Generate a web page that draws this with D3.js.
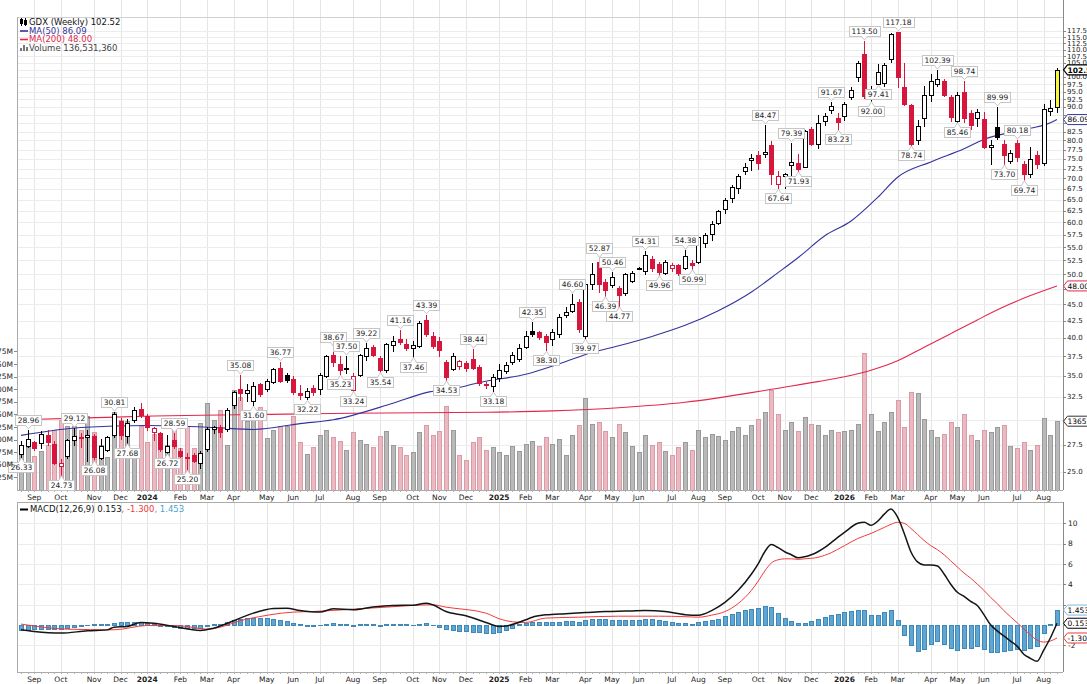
<!DOCTYPE html>
<html>
<head>
<meta charset="utf-8">
<script src="https://cdn.jsdelivr.net/npm/d3@7"></script>
<style>
  html, body { margin: 0; padding: 0; background: #fff; }
  svg { display: block; font-family: "DejaVu Sans", Verdana, sans-serif; }
</style>
</head>
<body>
<svg id="chart" width="1087" height="684"></svg>
<script>
/* GDX weekly candles + MA(50)/MA(200) + volume + MACD(12,26,9) */

// Monday of the first weekly bar
const firstWeek = new Date(2023, 7, 21);

const open = [
  26.6, 27.4, 27.75, 27.65, 28.4, 27.6, 25.5, 26.4, 27.95, 28.2,
  28.25, 28.3, 26.2, 27.0, 28.4, 29.9, 28.3, 30.0, 31.2, 30.4,
  28.7, 28.6, 26.8, 27.9, 26.9, 26.35, 26.55, 25.75, 27.1, 29.05,
  29.25, 29.0, 31.6, 33.4, 33.0, 32.0, 34.0, 33.4, 34.3, 36.0,
  35.1, 34.6, 33.0, 32.45, 33.5, 33.4, 35.0, 37.6, 36.5, 35.95,
  33.3, 35.1, 37.5, 38.8, 37.3, 35.7, 39.0, 39.8, 39.1, 38.55,
  38.9, 42.6, 40.2, 39.6, 36.7, 35.9, 36.2, 36.6, 37.2, 36.1,
  34.0, 33.8, 34.8, 35.6, 36.7, 37.2, 38.8, 41.0, 40.8, 40.3,
  39.9, 40.6, 43.4, 44.0, 45.4, 40.2, 48.3, 52.3, 48.6, 48.1,
  47.6, 46.9, 48.9, 51.2, 50.5, 52.8, 51.9, 50.2, 51.2, 51.6,
  51.2, 52.1, 52.2, 55.9, 57.6, 59.9, 62.8, 65.4, 67.7, 71.9,
  74.6, 76.1, 76.2, 78.6, 68.6, 70.5, 73.5, 74.0, 73.0, 83.4,
  79.1, 85.7, 88.9, 86.7, 87.1, 93.3, 99.8, 108.5, 93.0, 97.6,
  97.8, 106.5, 117.0, 96.6, 90.6, 80.0, 86.5, 94.0, 97.6, 98.7,
  93.3, 85.6, 94.7, 88.0, 86.5, 86.2, 78.3, 84.0, 78.9, 74.4,
  79.2, 73.7, 71.0, 76.1, 73.9, 88.6, 89.9
];
const high = [
  27.8, 28.96, 27.8, 28.8, 28.9, 27.8, 26.1, 28.0, 29.12, 28.6,
  28.9, 28.5, 28.0, 28.3, 30.81, 30.2, 30.1, 31.4, 31.8, 30.6,
  29.3, 28.7, 28.4, 28.59, 27.2, 26.7, 26.7, 26.9, 29.2, 29.4,
  29.5, 31.3, 33.2, 35.08, 34.0, 34.3, 34.1, 34.6, 36.0, 36.77,
  35.3, 35.0, 33.9, 33.5, 33.9, 35.3, 37.7, 38.67, 37.5, 37.5,
  35.3, 37.8, 39.22, 39.0, 37.5, 39.3, 40.3, 41.16, 39.8, 39.6,
  42.4, 43.39, 40.8, 40.1, 37.0, 37.9, 37.0, 36.9, 38.44, 36.3,
  34.2, 35.2, 36.5, 36.8, 38.0, 39.2, 41.0, 42.35, 41.0, 40.6,
  41.3, 43.5, 44.5, 46.6, 45.8, 49.0, 52.0, 52.87, 49.2, 50.46,
  48.0, 50.3, 50.5, 51.3, 54.31, 53.4, 52.3, 52.5, 52.0, 51.9,
  54.38, 52.6, 57.2, 57.9, 60.2, 62.7, 65.4, 68.3, 71.0, 73.8,
  76.3, 77.0, 84.47, 79.8, 71.8, 71.3, 79.39, 76.4, 83.0, 84.0,
  87.5, 88.0, 91.67, 88.0, 91.5, 96.5, 105.8, 113.5, 97.0, 104.5,
  105.0, 116.8, 117.18, 105.0, 91.0, 86.0, 97.0, 101.0, 102.39, 99.2,
  94.0, 95.0, 98.74, 89.0, 89.5, 88.5, 80.0, 89.99, 80.0, 77.4,
  80.18, 74.5, 78.3, 77.0, 91.0, 92.3, 103.2
];
const low = [
  26.33, 27.3, 27.0, 27.2, 27.5, 25.7, 24.73, 26.2, 27.5, 27.3,
  26.0, 26.08, 26.1, 26.9, 28.2, 28.0, 27.68, 29.8, 30.3, 28.9,
  27.9, 26.9, 26.72, 27.2, 26.2, 25.2, 25.9, 25.3, 26.9, 28.6,
  28.2, 28.8, 31.3, 32.2, 32.1, 31.6, 32.6, 33.2, 34.1, 34.2,
  34.3, 32.9, 32.3, 32.22, 32.7, 32.9, 34.9, 36.2, 35.23, 35.3,
  33.24, 35.0, 37.0, 37.5, 35.54, 35.5, 38.2, 39.1, 38.3, 37.46,
  38.7, 40.3, 38.6, 37.5, 34.53, 35.7, 35.9, 35.6, 35.8, 33.9,
  33.6, 33.18, 34.4, 35.3, 36.5, 36.9, 38.6, 40.3, 39.9, 38.3,
  39.0, 40.1, 43.0, 43.8, 40.9, 39.97, 47.5, 47.0, 46.39, 47.8,
  44.77, 46.5, 48.7, 50.9, 50.0, 50.6, 49.96, 50.0, 50.6, 49.9,
  51.0, 50.99, 52.0, 55.0, 56.5, 59.7, 62.1, 64.5, 66.5, 71.0,
  72.0, 72.5, 75.5, 68.7, 67.64, 67.8, 70.0, 71.93, 72.8, 78.7,
  78.0, 84.5, 88.0, 83.23, 86.0, 92.5, 98.5, 92.8, 92.0, 97.41,
  96.8, 105.5, 96.6, 90.5, 78.74, 78.9, 84.3, 92.0, 97.0, 93.5,
  85.7, 85.46, 85.5, 83.3, 84.3, 78.0, 73.6, 80.5, 73.7, 74.0,
  74.5, 69.74, 70.3, 72.7, 73.5, 87.6, 88.5
];
const close = [
  27.5, 28.0, 27.2, 28.5, 27.7, 25.8, 25.75, 27.9, 28.35, 28.1,
  28.45, 26.3, 27.4, 28.2, 30.6, 28.4, 29.7, 31.1, 30.5, 29.2,
  29.1, 27.1, 27.4, 27.35, 26.4, 26.3, 26.0, 26.7, 29.0, 29.2,
  28.7, 31.1, 33.1, 32.95, 33.3, 33.8, 32.9, 34.4, 35.8, 34.4,
  34.5, 33.1, 32.7, 33.2, 33.1, 35.1, 37.5, 36.7, 35.7, 35.85,
  35.0, 37.6, 38.6, 37.7, 35.7, 39.1, 39.5, 39.4, 38.6, 39.0,
  42.2, 40.5, 38.9, 38.3, 34.9, 37.5, 36.9, 36.0, 35.95, 34.1,
  33.85, 34.9, 35.7, 36.3, 37.6, 38.6, 40.2, 40.5, 40.1, 39.4,
  40.8, 43.1, 43.8, 45.0, 41.2, 48.4, 50.1, 48.3, 47.3, 49.5,
  46.5, 50.0, 50.2, 51.05, 53.6, 51.2, 50.4, 52.2, 51.6, 50.3,
  53.3, 51.6, 57.0, 57.4, 59.7, 62.5, 64.9, 68.0, 70.7, 72.8,
  75.3, 74.0, 76.9, 71.0, 70.7, 71.1, 74.3, 72.4, 82.7, 79.0,
  85.1, 87.2, 90.4, 85.4, 90.9, 95.5, 105.0, 93.6, 95.8, 101.9,
  104.2, 116.3, 99.8, 91.0, 79.0, 84.3, 94.0, 98.6, 99.4, 94.0,
  86.8, 93.8, 86.5, 84.6, 88.5, 78.3, 78.8, 81.0, 75.9, 76.6,
  75.4, 71.1, 75.0, 73.7, 89.2, 89.8, 102.52
];

// weekly volume, millions of shares
const volume = [
  89, 85, 67, 78, 89, 119, 139, 126, 126, 119,
  147, 116, 89, 66, 155, 139, 136, 65, 126, 96,
  112, 112, 89, 126, 83, 126, 83, 132, 173, 139,
  159, 89, 198, 185, 136, 152, 165, 103, 119, 126,
  126, 147, 95, 72, 85, 110, 120, 105, 98, 80,
  115, 100, 92, 85, 108, 118, 90, 85, 70, 75,
  115, 128, 110, 118, 167, 120, 70, 60, 95, 105,
  80, 85, 75, 70, 88, 78, 92, 98, 88, 105,
  92, 102, 70, 110, 128, 182, 130, 135, 118, 105,
  130, 115, 88, 75, 110, 90, 95, 78, 70, 85,
  96, 80, 120, 105, 112, 108, 100, 118, 125, 110,
  128, 140, 155, 198, 150, 120, 135, 118, 145, 130,
  128, 110, 120, 115, 118, 120, 130, 272, 150, 118,
  135, 155, 179, 125, 194, 192, 140, 120, 105, 112,
  135, 125, 150, 110, 100, 120, 115, 125, 129, 87,
  83, 95, 79, 89, 142, 109, 136.53136
];

// moving averages: [bar index, value]
const ma50 = [
  [0, 28.4], [9, 29.2], [19, 29.4], [29, 29.2], [35, 29.0], [42, 29.6], [47, 30.0],
  [56, 31.8], [61, 33.0], [66, 33.6], [69, 34.2], [76, 35.2], [81, 36.5], [86, 38.0],
  [90, 38.9], [95, 40.2], [100, 41.8], [105, 44.0], [110, 47.0], [114, 50.3],
  [117, 53.0], [121, 57.2], [125, 60.3], [129, 65.5], [132, 70.3], [137, 74.2],
  [142, 77.7], [145, 80.3], [150, 82.7], [155, 85.1], [156, 86.09]
];
const ma200 = [
  [0, 30.0], [10, 30.2], [20, 30.4], [30, 30.5], [40, 30.6], [50, 30.7], [60, 30.75],
  [70, 30.8], [80, 30.95], [90, 31.3], [100, 31.9], [110, 33.0], [113, 33.4],
  [120, 34.3], [124, 34.9], [128, 35.7], [132, 36.9], [136, 38.7], [140, 40.6],
  [144, 42.6], [148, 44.6], [152, 46.4], [156, 48.0]
];

// MACD(12,26,9)
const macdLine = [
  [0, -0.49], [2, -0.66], [6, -0.82], [10, -0.59], [13, -0.5], [14, -0.23], [16, -0.16],
  [18, 0.23], [20, 0.16], [23, -0.16], [27, -0.56], [29, -0.33], [33, 0.66], [35, 1.15],
  [38, 1.61], [40, 1.64], [42, 1.41], [45, 1.25], [47, 1.57], [50, 1.48], [53, 1.75],
  [56, 1.9], [59, 1.93], [61, 2.13], [62, 1.97], [64, 1.31], [67, 0.89], [70, 0.23],
  [72, -0.16], [73, -0.12], [76, 0.49], [77, 0.75], [79, 0.98], [82, 1.1], [85, 1.2],
  [88, 1.3], [91, 1.35], [94, 1.4], [97, 1.3], [100, 1.0], [102, 0.95], [104, 1.4],
  [106, 2.2], [108, 3.4], [110, 5.0], [111, 6.0], [112, 7.2], [113, 7.9], [114, 7.6],
  [115, 7.2], [116, 6.9], [117, 6.6], [118, 6.7], [119, 6.9], [120, 7.2], [121, 7.6],
  [122, 8.1], [124, 9.1], [126, 10.0], [127, 10.1], [128, 9.8], [129, 10.2], [130, 10.9],
  [131, 11.4], [132, 10.6], [133, 9.0], [134, 7.2], [135, 6.2], [136, 5.9], [137, 5.9],
  [138, 5.8], [139, 5.0], [140, 4.0], [141, 3.2], [142, 2.8], [143, 2.3], [144, 1.9],
  [145, 1.0], [146, 0.0], [147, -0.6], [148, -1.1], [149, -1.6], [150, -2.1], [151, -2.9],
  [152, -3.3], [153, -3.6], [154, -2.5], [155, -1.3], [156, 0.153]
];
const signalLine = [
  [0, 0.07], [7, -0.43], [14, -0.49], [19, -0.07], [24, -0.1], [28, -0.43], [34, 0.56],
  [41, 1.25], [44, 1.31], [50, 1.54], [55, 1.74], [62, 1.97], [64, 1.74], [70, 1.15],
  [72, 0.6], [74, 0.3], [76, 0.23], [79, 0.66], [84, 0.75], [90, 0.85], [96, 0.85],
  [100, 0.8], [102, 0.75], [104, 0.95], [106, 1.3], [108, 2.1], [110, 3.4], [111, 4.3],
  [112, 5.3], [113, 6.1], [114, 6.4], [115, 6.5], [116, 6.5], [117, 6.45], [118, 6.5],
  [119, 6.55], [120, 6.65], [122, 7.1], [124, 7.8], [126, 8.5], [128, 9.0], [130, 9.6],
  [131, 9.9], [132, 10.1], [133, 10.0], [134, 9.5], [135, 8.9], [136, 8.3], [137, 7.8],
  [138, 7.4], [139, 6.9], [140, 6.3], [141, 5.7], [142, 5.1], [143, 4.6], [144, 4.0],
  [145, 3.4], [146, 2.7], [147, 2.1], [148, 1.4], [149, 0.8], [150, 0.2], [151, -0.4],
  [152, -1.0], [153, -1.5], [154, -1.7], [155, -1.6], [156, -1.3]
];
const macdHist = [
  -0.45, -0.45, -0.43, -0.42, -0.42, -0.4, -0.38, -0.3, -0.2, -0.1,
  -0.02, 0.05, 0.08, 0.12, 0.2, 0.25, 0.3, 0.28, 0.25, 0.15,
  0.05, -0.05, -0.12, -0.2, -0.25, -0.28, -0.3, -0.25, -0.12, 0.05,
  0.1, 0.3, 0.45, 0.55, 0.65, 0.7, 0.68, 0.7, 0.6, 0.5,
  0.4, 0.22, 0.05, -0.05, -0.1, 0.0, 0.1, 0.15, 0.1, 0.05,
  -0.05, 0.05, 0.12, 0.05, -0.05, 0.08, 0.1, 0.08, 0.05, 0.02,
  0.12, 0.15, 0.02, -0.15, -0.4, -0.45, -0.55, -0.6, -0.65, -0.72,
  -0.8, -0.78, -0.65, -0.5, -0.3, 0.05, 0.2, 0.3, 0.32, 0.3,
  0.3, 0.32, 0.35, 0.4, 0.25, 0.45, 0.6, 0.6, 0.55, 0.5,
  0.45, 0.45, 0.45, 0.5, 0.6, 0.55, 0.45, 0.4, 0.3, 0.2,
  0.2, 0.1, 0.25, 0.35, 0.45, 0.6, 0.9, 1.1, 1.3, 1.45,
  1.6, 1.7, 1.9, 1.8, 1.2, 0.7, 0.4, 0.15, 0.2, 0.35,
  0.55, 0.8, 1.0, 1.1, 1.3, 1.4, 1.5, 1.5, 1.0, 1.0,
  1.3, 1.5, 0.5, -1.0, -2.0, -2.6, -2.4, -1.9, -1.6, -1.9,
  -2.3, -2.5, -2.3, -2.3, -2.1, -2.4, -2.7, -2.7, -2.6, -2.5,
  -2.4, -2.5, -2.3, -2.1, -0.8, 0.1, 1.453
];

// bars that carry a high / low tag
const hiTags = [1, 8, 14, 23, 33, 39, 47, 49, 52, 57, 61, 68, 77, 83, 87, 89, 94, 100,
  112, 116, 122, 127, 132, 138, 142, 147, 150];
const loTags = [0, 6, 11, 16, 22, 25, 35, 43, 48, 50, 54, 59, 64, 71, 79, 85, 88, 90, 96,
  101, 114, 117, 123, 128, 129, 134, 141, 148, 151];

const priceTicks = d3.range(25, 117.6, 2.5);
const volTicks = [25, 50, 75, 100, 125, 150, 175, 200, 225, 250, 275];
const macdTicks = [-2, 0, 2, 4, 6, 8, 10];

// ---------------------------------------------------------------
const N = close.length;
const weeks = d3.range(N).map(i => d3.timeDay.offset(firstWeek, 7 * i));
const monthStarts = d3.range(1, N).filter(i => weeks[i].getMonth() !== weeks[i - 1].getMonth());

const L = 17, R = 1063;
const P_TOP = 17, P_BOT = 490, M_TOP = 502, M_BOT = 672;
const RED = '#d7163d', BLUE = '#34349e', MA200C = '#e2284c', HISTC = '#5ea7d3', SIGC = '#f23a3a';

const svg = d3.select('#chart');

const x = d3.scaleBand().domain(d3.range(N)).range([17.68, 1060.3]);
const xc = i => x(i) + x.bandwidth() / 2;
const px = i => Math.round(xc(i)) + 0.5;
const yP = d3.scaleLog().domain([25, 117.5]).range([471.7, 31]);
const yV = d3.scaleLinear().domain([0, 275]).range([P_BOT, 351.4]);
const yM = d3.scaleLinear().domain([-2, 10]).range([645.1, 523.3]);
const crisp = v => Math.round(v) + 0.5;

const lastM = macdLine[macdLine.length - 1][1];
const lastS = signalLine[signalLine.length - 1][1];
const lastH = macdHist[N - 1];
const lastMa50 = ma50[ma50.length - 1][1];
const lastMa200 = ma200[ma200.length - 1][1];

// where the right-axis flags sit, so plain tick labels under them can be skipped
const priceFlags = [yP(close[N - 1]), yP(lastMa50), yP(lastMa200), yV(volume[N - 1])];
const macdFlags = [yM(lastH), yM(lastM), yM(lastS)];
const free = (y, flags) => flags.every(f => Math.abs(f - y) > 6.5);

const defs = svg.append('defs');
defs.append('clipPath').attr('id', 'clipP').append('rect')
  .attr('x', L).attr('y', P_TOP).attr('width', R - L).attr('height', P_BOT - P_TOP);
defs.append('clipPath').attr('id', 'clipM').append('rect')
  .attr('x', L).attr('y', M_TOP).attr('width', R - L).attr('height', M_BOT - M_TOP);

// grid
const grid = svg.append('g').attr('stroke', '#e5e5e5').attr('shape-rendering', 'crispEdges');
monthStarts.forEach(i => {
  grid.append('line').attr('x1', px(i)).attr('x2', px(i)).attr('y1', 0).attr('y2', P_BOT);
  grid.append('line').attr('x1', px(i)).attr('x2', px(i)).attr('y1', M_TOP).attr('y2', M_BOT);
});
priceTicks.forEach(v => {
  grid.append('line').attr('x1', L).attr('x2', R).attr('y1', crisp(yP(v))).attr('y2', crisp(yP(v)))
    .attr('stroke', '#ececec');
});
macdTicks.filter(v => v !== 0).forEach(v => {
  grid.append('line').attr('x1', L).attr('x2', R).attr('y1', crisp(yM(v))).attr('y2', crisp(yM(v)))
    .attr('stroke', '#ececec');
});

// pane frames
const frame = svg.append('g').attr('fill', 'none').attr('shape-rendering', 'crispEdges');
frame.append('line').attr('x1', L).attr('x2', R).attr('y1', P_TOP + 0.5).attr('y2', P_TOP + 0.5).attr('stroke', '#d0d0d0');
frame.append('line').attr('x1', L + 0.5).attr('x2', L + 0.5).attr('y1', P_TOP).attr('y2', P_BOT).attr('stroke', '#aaa');
frame.append('line').attr('x1', L).attr('x2', R).attr('y1', P_BOT + 0.5).attr('y2', P_BOT + 0.5).attr('stroke', '#aaa');
frame.append('line').attr('x1', R + 0.5).attr('x2', R + 0.5).attr('y1', 0).attr('y2', P_BOT).attr('stroke', '#888');
frame.append('line').attr('x1', L).attr('x2', R).attr('y1', M_TOP + 0.5).attr('y2', M_TOP + 0.5).attr('stroke', '#aaa');
frame.append('line').attr('x1', L + 0.5).attr('x2', L + 0.5).attr('y1', M_TOP).attr('y2', M_BOT).attr('stroke', '#aaa');
frame.append('line').attr('x1', L).attr('x2', R).attr('y1', M_BOT + 0.5).attr('y2', M_BOT + 0.5).attr('stroke', '#aaa');
frame.append('line').attr('x1', R + 0.5).attr('x2', R + 0.5).attr('y1', M_TOP).attr('y2', M_BOT).attr('stroke', '#888');

// weekly ticks on the date axes
const wt = svg.append('g').attr('stroke', '#b0b0b0').attr('shape-rendering', 'crispEdges');
d3.range(N).forEach(i => {
  wt.append('line').attr('x1', px(i)).attr('x2', px(i)).attr('y1', P_BOT).attr('y2', P_BOT + 2);
  wt.append('line').attr('x1', px(i)).attr('x2', px(i)).attr('y1', M_BOT).attr('y2', M_BOT + 2);
});

const isUp = i => i === 0 || close[i] >= close[i - 1];

// volume
svg.append('g').attr('clip-path', 'url(#clipP)').attr('shape-rendering', 'crispEdges')
  .selectAll('rect').data(volume).join('rect')
  .attr('x', (d, i) => Math.round(xc(i)) - 2 + 0.5)
  .attr('width', 4)
  .attr('y', d => crisp(yV(d)))
  .attr('height', d => P_BOT - crisp(yV(d)))
  .attr('fill', (d, i) => isUp(i) ? '#b9b9b9' : '#ebb9c1')
  .attr('stroke', (d, i) => isUp(i) ? '#9a9a9a' : '#d99ba6');

// moving averages
const maLine = d3.line().x(d => xc(d[0])).y(d => yP(d[1])).curve(d3.curveMonotoneX);
const maG = svg.append('g').attr('clip-path', 'url(#clipP)').attr('fill', 'none');
maG.append('path').attr('d', maLine(ma200)).attr('stroke', MA200C).attr('stroke-width', 1.1);
maG.append('path').attr('d', maLine(ma50)).attr('stroke', BLUE).attr('stroke-width', 1.1);

// candles
const cg = svg.append('g').attr('clip-path', 'url(#clipP)').attr('shape-rendering', 'crispEdges');
d3.range(N).forEach(i => {
  const col = i === N - 1 ? '#000' : (isUp(i) ? '#000' : RED);
  const hollow = close[i] >= open[i];
  cg.append('line').attr('x1', px(i)).attr('x2', px(i))
    .attr('y1', Math.round(yP(high[i]))).attr('y2', Math.round(yP(low[i])) + 1)
    .attr('stroke', col);
  const top = Math.round(yP(Math.max(open[i], close[i])));
  const bot = Math.round(yP(Math.min(open[i], close[i])));
  cg.append('rect')
    .attr('x', Math.round(xc(i)) - 2 + 0.5).attr('width', 4)
    .attr('y', top + 0.5).attr('height', Math.max(1, bot - top))
    .attr('fill', i === N - 1 ? '#f7f73c' : (hollow ? '#fff' : col))
    .attr('stroke', col);
});

// high / low tags
const tagG = svg.append('g').attr('font-size', 7.5).attr('fill', '#222');
function tag(i, val, above) {
  const cx = px(i);
  const yv = yP(val);
  const g = tagG.append('g');
  const box = g.append('rect').attr('fill', '#fff').attr('stroke', '#c6c6c6');
  const ptr = g.append('path').attr('fill', '#fff').attr('stroke', '#c6c6c6');
  const t = g.append('text').attr('text-anchor', 'middle').attr('x', cx).text(val.toFixed(2));
  const w = t.node().getComputedTextLength() + 5;
  const h = 10;
  const edge = above ? Math.round(yv - 5) + 0.5 : Math.round(yv + 5) + 0.5;
  const by = above ? edge - h : edge;
  box.attr('x', Math.round(cx - w / 2) + 0.5).attr('y', by).attr('width', Math.round(w)).attr('height', h);
  const tip = above ? yv - 1 : yv + 1;
  ptr.attr('d', `M${cx - 3},${edge} L${cx},${tip} L${cx + 3},${edge}`);
  g.append('line').attr('x1', cx - 2.5).attr('x2', cx + 2.5).attr('y1', edge).attr('y2', edge)
    .attr('stroke', '#fff');
  t.attr('y', by + h / 2).attr('dy', '0.36em');
}
hiTags.forEach(i => tag(i, high[i], true));
loTags.forEach(i => tag(i, low[i], false));

// right price axis
const ra = svg.append('g').attr('font-size', 7).attr('fill', '#222');
priceTicks.forEach(v => {
  ra.append('line').attr('x1', R).attr('x2', R + 3).attr('y1', crisp(yP(v))).attr('y2', crisp(yP(v)))
    .attr('stroke', '#888');
  if (free(yP(v), priceFlags)) {
    ra.append('text').attr('x', R + 4).attr('y', yP(v)).attr('dy', '0.35em').text(v.toFixed(1));
  }
});

// left volume axis
const la = svg.append('g').attr('font-size', 7.5).attr('fill', '#222');
volTicks.forEach(v => {
  la.append('line').attr('x1', L - 3).attr('x2', L).attr('y1', crisp(yV(v))).attr('y2', crisp(yV(v)))
    .attr('stroke', '#888');
  la.append('text').attr('x', L - 4).attr('y', yV(v)).attr('dy', '0.35em')
    .attr('text-anchor', 'end').text(v + 'M');
});

// value flags on the right axis
function flag(y, text, stroke, opts = {}) {
  const g = svg.append('g');
  const h = 10;
  g.append('path')
    .attr('d', `M${R + 0.5},${y} L${R + 4.5},${y - h / 2} L${1092},${y - h / 2} L${1092},${y + h / 2} L${R + 4.5},${y + h / 2} Z`)
    .attr('fill', '#fff').attr('stroke', stroke).attr('stroke-width', opts.sw || 1);
  g.append('text').attr('x', R + 4.5).attr('y', y).attr('dy', '0.36em')
    .attr('font-size', 7.5).attr('font-weight', opts.bold ? 'bold' : 'normal')
    .attr('fill', opts.color || '#000').text(text);
}
flag(yV(volume[N - 1]), d3.format('d')(Math.round(volume[N - 1] * 1e6)), '#333');
flag(yP(lastMa200), lastMa200.toFixed(2), MA200C);
flag(yP(lastMa50), lastMa50.toFixed(2), BLUE);
flag(yP(close[N - 1]), close[N - 1].toFixed(2), '#000', { bold: true, sw: 1.2 });

// date labels
const fmtMonth = d3.timeFormat('%b');
[497, 679].forEach(yy => {
  const g = svg.append('g').attr('font-size', 7.5).attr('fill', '#222').attr('text-anchor', 'middle');
  monthStarts.forEach(i => {
    const jan = weeks[i].getMonth() === 0;
    g.append('text').attr('x', xc(i)).attr('y', yy).attr('dy', '0.35em')
      .attr('font-weight', jan ? 'bold' : 'normal')
      .text(jan ? weeks[i].getFullYear() : fmtMonth(weeks[i]));
  });
});

// legend (price pane)
const lg = svg.append('g').attr('font-size', 8.5);
const ic = lg.append('g').attr('shape-rendering', 'crispEdges');
ic.append('line').attr('x1', 21.5).attr('x2', 21.5).attr('y1', 18).attr('y2', 26).attr('stroke', '#000');
ic.append('rect').attr('x', 20.5).attr('y', 19.5).attr('width', 2).attr('height', 4).attr('fill', '#000').attr('stroke', '#000');
ic.append('line').attr('x1', 25.5).attr('x2', 25.5).attr('y1', 18).attr('y2', 26).attr('stroke', '#000');
ic.append('rect').attr('x', 24.5).attr('y', 20.5).attr('width', 2).attr('height', 4).attr('fill', '#000').attr('stroke', '#000');
lg.append('text').attr('x', 29).attr('y', 22.5).attr('dy', '0.35em').attr('fill', '#111')
  .text(`GDX (Weekly) ${close[N - 1].toFixed(2)}`);
lg.append('line').attr('x1', 20).attr('x2', 28).attr('y1', 31).attr('y2', 31).attr('stroke', BLUE).attr('stroke-width', 1.6);
lg.append('text').attr('x', 29).attr('y', 31).attr('dy', '0.35em').attr('fill', BLUE)
  .text(`MA(50) ${lastMa50.toFixed(2)}`);
lg.append('line').attr('x1', 20).attr('x2', 28).attr('y1', 39.5).attr('y2', 39.5).attr('stroke', MA200C).attr('stroke-width', 1.6);
lg.append('text').attr('x', 29).attr('y', 39.5).attr('dy', '0.35em').attr('fill', MA200C)
  .text(`MA(200) ${lastMa200.toFixed(2)}`);
[[20, 3], [23, 6], [26, 4]].forEach(([bx, bh]) => {
  lg.append('rect').attr('x', bx).attr('y', 51 - bh).attr('width', 2).attr('height', bh).attr('fill', '#777');
});
lg.append('text').attr('x', 29).attr('y', 48).attr('dy', '0.35em').attr('fill', '#444')
  .text(`Volume ${d3.format(',')(Math.round(volume[N - 1] * 1e6))}`);

// MACD pane
const y0 = yM(0);
svg.append('g').attr('clip-path', 'url(#clipM)').attr('shape-rendering', 'crispEdges')
  .selectAll('rect').data(macdHist).join('rect')
  .attr('x', (d, i) => Math.round(xc(i)) - 2 + 0.5)
  .attr('width', 4)
  .attr('y', d => Math.round(Math.min(yM(d), y0)) + 0.5)
  .attr('height', d => Math.max(0.01, Math.round(Math.abs(yM(d) - y0))))
  .attr('fill', HISTC).attr('stroke', '#3f88b8');

const mLine = d3.line().x(d => xc(d[0])).y(d => yM(d[1])).curve(d3.curveMonotoneX);
const mg = svg.append('g').attr('clip-path', 'url(#clipM)').attr('fill', 'none');
mg.append('path').attr('d', mLine(signalLine)).attr('stroke', SIGC).attr('stroke-width', 1);
mg.append('path').attr('d', mLine(macdLine)).attr('stroke', '#151515').attr('stroke-width', 1.5);

const mAxis = svg.append('g').attr('font-size', 7.5).attr('fill', '#222');
macdTicks.forEach(v => {
  mAxis.append('line').attr('x1', R).attr('x2', R + 3).attr('y1', crisp(yM(v))).attr('y2', crisp(yM(v)))
    .attr('stroke', '#888');
  if (free(yM(v), macdFlags)) {
    mAxis.append('text').attr('x', R + 5).attr('y', yM(v)).attr('dy', '0.35em').text(v);
  }
});

flag(yM(lastH), lastH.toFixed(3), '#7fb8de');
flag(yM(lastS), lastS.toFixed(3), SIGC);
flag(yM(lastM), lastM.toFixed(3), '#000');

const ml = svg.append('g').attr('font-size', 8.5);
ml.append('line').attr('x1', 20).attr('x2', 28).attr('y1', 509.5).attr('y2', 509.5).attr('stroke', '#000').attr('stroke-width', 2);
const mt = ml.append('text').attr('x', 30).attr('y', 509.5).attr('dy', '0.35em');
mt.append('tspan').attr('fill', '#111').text(`MACD(12,26,9) ${lastM.toFixed(3)}`);
mt.append('tspan').attr('fill', SIGC).text(`, ${lastS.toFixed(3)}`);
mt.append('tspan').attr('fill', '#4a9fd6').text(`, ${lastH.toFixed(3)}`);
</script>
</body>
</html>
